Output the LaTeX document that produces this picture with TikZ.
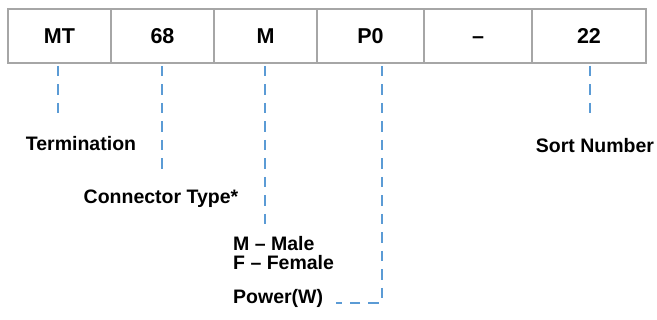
\documentclass[tikz,border=0pt]{standalone}
\usepackage{fontspec}
\setmainfont{Liberation Sans}
\definecolor{cellgray}{HTML}{A6A6A6}
\definecolor{linkblue}{HTML}{5B9BD5}
\tikzset{
  cell/.style={draw=cellgray, line width=2pt, minimum height=54pt, inner sep=0pt,
    text height=15.5pt, text depth=0pt,
    font=\fontsize{21.5}{24}\selectfont\bfseries},
  lbl/.style={inner sep=0pt, font=\fontsize{19.5}{22}\selectfont\bfseries},
  conn/.style={draw=linkblue, line width=2pt, dash pattern=on 10.5pt off 8pt}
}
\begin{document}
\begin{tikzpicture}[x=1pt,y=-1pt]
\useasboundingbox (0,0) rectangle (657,320);
% table cells
\node[cell, minimum width=103pt] (c1) at (59.5,36) {MT};
\node[cell, minimum width=103pt] (c2) at (162.5,36) {68};
\node[cell, minimum width=103pt] (c3) at (265.5,36) {M};
\node[cell, minimum width=107pt] (c4) at (370.5,36) {P0};
\node[cell, minimum width=108pt] (c5) at (478,36) {--};
\node[cell, minimum width=114pt] (c6) at (589,36) {22};
% labels
\node[lbl] (term) at (81,144) {Termination};
\node[lbl] (ctype) at (161,199) {Connector Type*};
\node[lbl, anchor=west] (male) at (233,244) {M -- Male};
\node[lbl, anchor=west] (female) at (233,263) {F -- Female};
\node[lbl, anchor=west] (power) at (233,298) {Power(W)};
\node[lbl] (sort) at (595,146) {Sort Number};
% end points
\coordinate (e1) at (58,116);
\coordinate (e2) at (162,170);
\coordinate (e3) at (265,224);
\coordinate (e4) at (382,303);
\coordinate (e4b) at (336,303);
\coordinate (e6) at (590,113);
% connectors
\draw[conn] (58,66) -- (e1);
\draw[conn] (162,66) -- (e2);
\draw[conn] (265,66) -- (e3);
\draw[conn] (382,66) -- (e4) -- (e4b);
\draw[conn] (590,66) -- (e6);
\end{tikzpicture}
\end{document}
